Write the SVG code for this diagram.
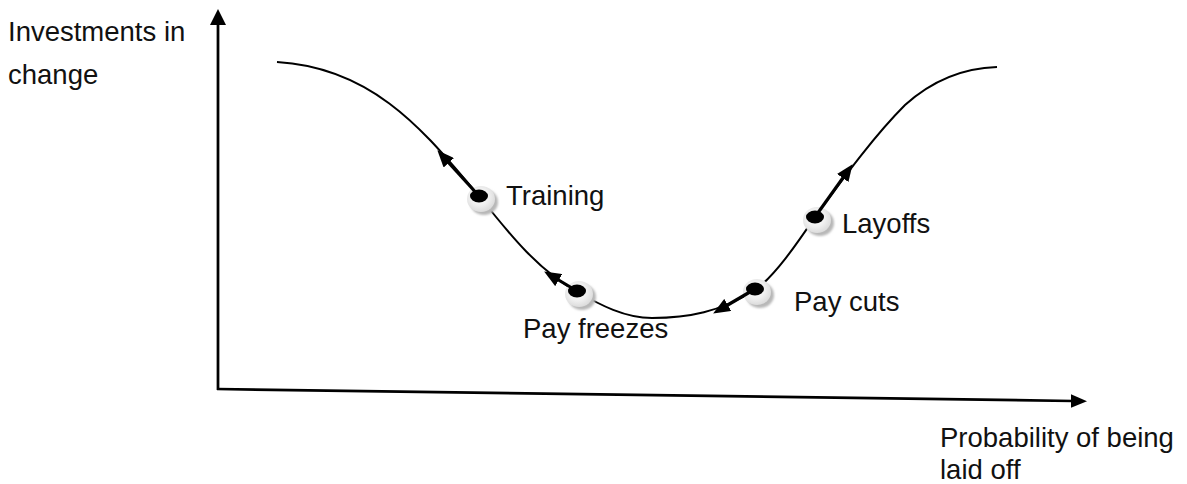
<svg xmlns="http://www.w3.org/2000/svg" width="1187" height="484" viewBox="0 0 1187 484">
  <style>
    .lbl { font-family: "Liberation Sans", Arial, sans-serif; font-size: 27.5px; fill: #111; }
    .axis { stroke: #000; stroke-width: 2.75; fill: none; }
    .curve { stroke: #000; stroke-width: 2; fill: none; }
    .move { stroke: #000; stroke-width: 3.2; fill: none; marker-end: url(#head); }
    .shadow { fill: #b8b8b8; filter: url(#soft); }
    .ring { fill: url(#ringFill); }
    .core { fill: #000; }
  </style>
  <defs>
    <marker id="head" markerUnits="userSpaceOnUse" viewBox="0 0 17 14" refX="11" refY="7" markerWidth="17" markerHeight="14" orient="auto">
      <path d="M0,0 L17,7 L0,14 z" fill="#000"/>
    </marker>
    <radialGradient id="ringFill" cx="0.45" cy="0.42" r="0.6">
      <stop offset="0" stop-color="#ffffff"/>
      <stop offset="0.55" stop-color="#f0f0f0"/>
      <stop offset="1" stop-color="#dadada"/>
    </radialGradient>
    <filter id="soft" x="-30%" y="-30%" width="160%" height="160%">
      <feGaussianBlur stdDeviation="0.8"/>
    </filter>
  </defs>

  <!-- axes -->
  <g id="axes">
    <line class="axis" x1="218" y1="390" x2="218" y2="24"/>
    <polygon points="210,25 218,9 226,25" fill="#000"/>
    <line class="axis" x1="217" y1="389" x2="1073" y2="401"/>
    <polygon points="1071,394.3 1087,401.2 1071,407.7" fill="#000"/>
    <text class="lbl" x="8" y="41">Investments in</text>
    <text class="lbl" x="8" y="84">change</text>
    <text class="lbl" x="940" y="447">Probability of being</text>
    <text class="lbl" x="940" y="479">laid off</text>
  </g>

  <!-- connectors: the U-shaped curve -->
  <g id="connectors">
    <path class="curve" d="M277,62 C380,68 432,142 480,197 C510,235 540,272 578,292 C600,305 625,318 652,318 C688,318 720,312 755,290 C775,276 798,242 815,217 C835,190 870,140 905,105 C935,78 965,68 997,67"/>
  </g>

  <!-- nodes -->
  <g id="node-training">
    <ellipse class="shadow" cx="484" cy="202" rx="14" ry="13"/>
    <ellipse class="ring" cx="481" cy="199" rx="14" ry="13"/>
    <ellipse class="core" cx="479" cy="196" rx="9" ry="6.5"/>
    <text class="lbl" x="506" y="205">Training</text>
  </g>
  <g id="node-pay-freezes">
    <ellipse class="shadow" cx="582" cy="297" rx="14" ry="13"/>
    <ellipse class="ring" cx="579" cy="294" rx="14" ry="13"/>
    <ellipse class="core" cx="577" cy="291" rx="9" ry="6.5"/>
    <text class="lbl" x="523" y="338">Pay freezes</text>
  </g>
  <g id="node-pay-cuts">
    <ellipse class="shadow" cx="760" cy="295" rx="14" ry="13"/>
    <ellipse class="ring" cx="757" cy="292" rx="14" ry="13"/>
    <ellipse class="core" cx="755" cy="289" rx="9" ry="6.5"/>
    <text class="lbl" x="794" y="311">Pay cuts</text>
  </g>
  <g id="node-layoffs">
    <ellipse class="shadow" cx="820" cy="223" rx="14" ry="13"/>
    <ellipse class="ring" cx="817" cy="220" rx="14" ry="13"/>
    <ellipse class="core" cx="815" cy="217" rx="9" ry="6.5"/>
    <text class="lbl" x="842" y="233">Layoffs</text>
  </g>

  <!-- direction arrows along the curve -->
  <g id="moves">
    <line class="move" x1="479" y1="196" x2="441.4" y2="154.7"/>
    <line class="move" x1="577" y1="291" x2="549.3" y2="274.5"/>
    <line class="move" x1="755" y1="289" x2="718.3" y2="310.5"/>
    <line class="move" x1="815" y1="217" x2="849.1" y2="169.1"/>
  </g>
</svg>
